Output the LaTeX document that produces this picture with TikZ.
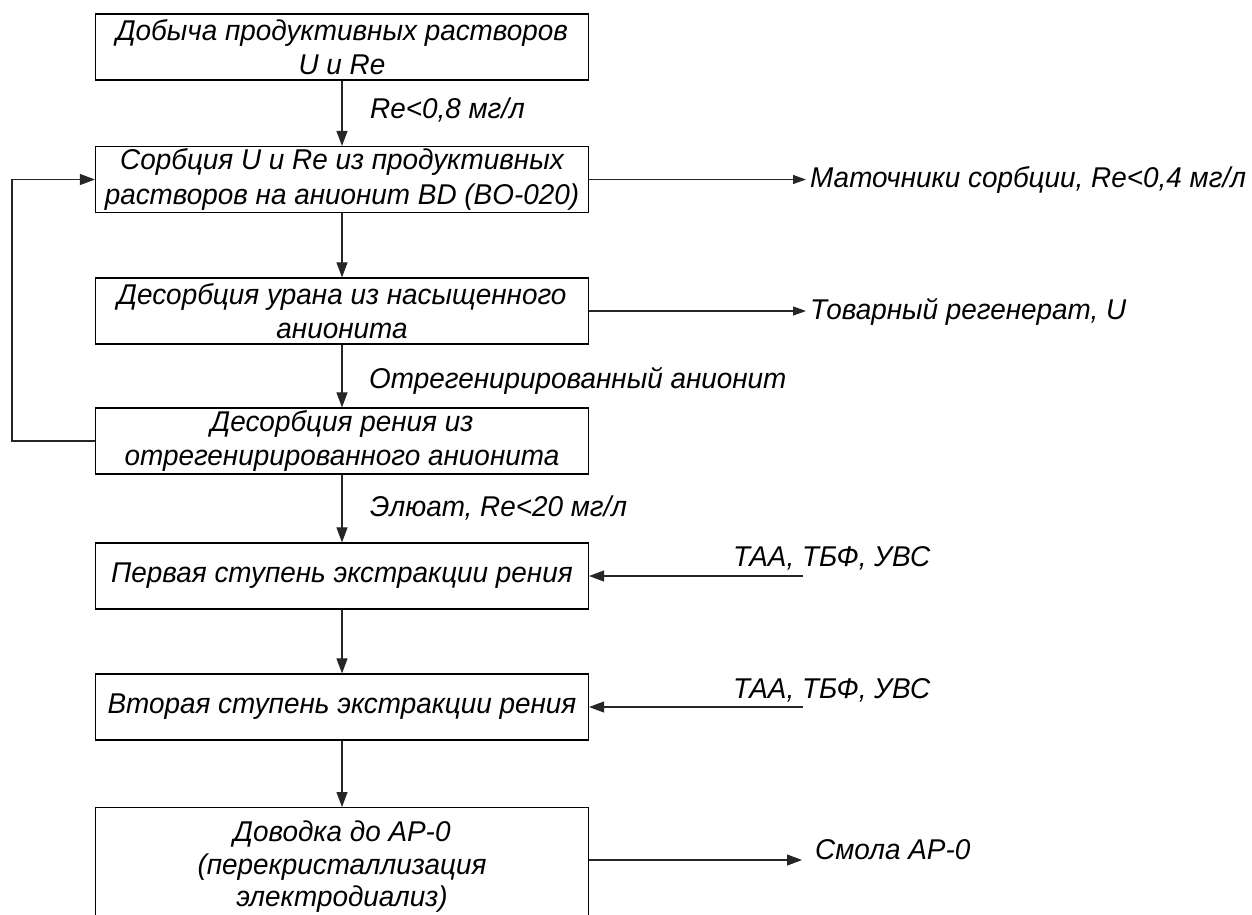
\documentclass[tikz,border=0pt]{standalone}
\usepackage{fontspec}
\setmainfont{Liberation Sans}[FakeStretch=0.975]
\usetikzlibrary{arrows.meta}
\begin{document}
\begin{tikzpicture}[x=1pt,y=-1pt,
  every node/.style={font=\fontsize{28.6}{34.5}\selectfont\itshape},
  stagebox/.style={draw=black, line width=1.2pt, minimum width=493pt, minimum height=66pt,
    align=center, inner sep=2pt},
  tag/.style={anchor=west, inner sep=0pt},
  flow/.style={draw=black!85, line width=1.1pt, -{Triangle[length=15pt,width=11pt]}},
  flowsm/.style={draw=black!85, line width=1.1pt, -{Triangle[length=13pt,width=9pt]}}]
\useasboundingbox (0,0) rectangle (1252,914);
\clip (0,0) rectangle (1252,914);

% process stages
\node[stagebox] (b1) at (342,47) {Добыча продуктивных растворов\\U и Re};
\node[stagebox] (b2) at (342,179.5) {Сорбция U и Re из продуктивных\\растворов на анионит BD (BO-020)};
\node[stagebox] (b3) at (342,311) {Десорбция урана из насыщенного\\анионита};
\node[stagebox] (b4) at (342,441) {Десорбция рения из\\отрегенирированного анионита};
\node[stagebox] (b5) at (342,576) {Первая ступень экстракции рения};
\node[stagebox] (b6) at (342,707) {Вторая ступень экстракции рения};
\node[stagebox, anchor=north, minimum height=118pt, font=\fontsize{28.6}{32.5}\selectfont\itshape] (b7) at (342,807)
  {Доводка до АР-0\\(перекристаллизация\\электродиализ)};

% main vertical flow
\draw[flow] (b1) -- (b2);
\draw[flow] (b2) -- (b3);
\draw[flow] (b3) -- (b4);
\draw[flow] (b4) -- (b5);
\draw[flow] (b5) -- (b6);
\draw[flow] (b6) -- (b7);

\node[tag] (l1) at (370,110) {Re<0,8 мг/л};
\node[tag] (l3) at (369,381) {Отрегенирированный анионит};
\node[tag] (l4) at (370,508) {Элюат, Re<20 мг/л};

% recycle of regenerated resin
\coordinate (fb) at (12,441);
\draw[flow] (b4.west) -- (fb) |- (b2.west);

% outgoing streams
\coordinate (o2) at (806,0);
\coordinate (o3) at (806,0);
\coordinate (o7) at (802,860);
\draw[flowsm] (b2.east) -- (b2.east -| o2);
\draw[flowsm] (b3.east) -- (b3.east -| o3);
\draw[flow] (b7.east |- o7) -- (o7);
\node[tag] (t2) at (810,180) {Маточники сорбции, Re<0,4 мг/л};
\node[tag] (t3) at (810,312) {Товарный регенерат, U};
\node[tag] (t7) at (815,850) {Смола АР-0};

% reagent feeds
\coordinate (i5) at (803,576);
\coordinate (i6) at (803,707);
\draw[flow] (i5) -- (b5.east);
\draw[flow] (i6) -- (b6.east);
\node[tag] (r5) at (733,558) {ТАА, ТБФ, УВС};
\node[tag] (r6) at (733,690) {ТАА, ТБФ, УВС};
\end{tikzpicture}
\end{document}
